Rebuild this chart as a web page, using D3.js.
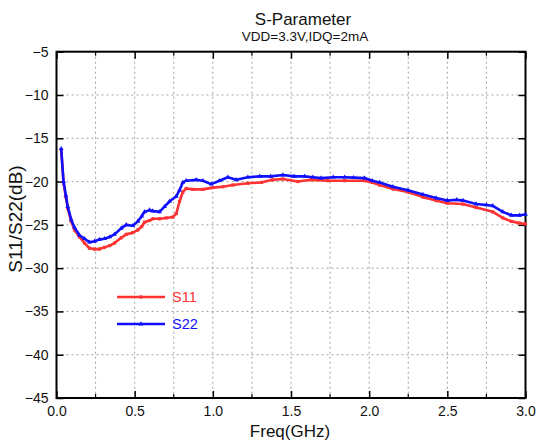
<!DOCTYPE html>
<html><head><meta charset="utf-8">
<script src="https://cdn.jsdelivr.net/npm/d3@7"></script>
<style>body{margin:0;background:#fff}svg{display:block}text{font-family:"Liberation Sans",Arial,sans-serif}</style>
</head><body>
<script>
const titleText = "S-Parameter";
const subtitleText = "VDD=3.3V,IDQ=2mA";
const xTicks = [0.0, 0.5, 1.0, 1.5, 2.0, 2.5, 3.0];
const yTicks = [-5, -10, -15, -20, -25, -30, -35, -40, -45];
const seriesNames = ["S11", "S22"];
const freqS11 = [0.03,0.045,0.06,0.072,0.094,0.115,0.147,0.179,0.211,0.243,0.275,0.307,0.34,0.371,0.414,0.446,0.488,0.52,0.545,0.563,0.595,0.616,0.659,0.702,0.744,0.766,0.787,0.808,0.83,0.872,0.936,1.0,1.064,1.128,1.224,1.31,1.38,1.448,1.544,1.629,1.736,1.843,1.97,2.02,2.067,2.152,2.248,2.344,2.429,2.5,2.6,2.685,2.791,2.855,2.91,2.962,3.0];
const s11 = [-16.3,-20.2,-21.8,-23.1,-24.6,-25.6,-26.4,-27.1,-27.7,-27.8,-27.8,-27.6,-27.4,-27.1,-26.5,-26.1,-25.9,-25.6,-25.2,-24.7,-24.5,-24.3,-24.3,-24.2,-24.1,-23.7,-22.3,-21.2,-20.8,-20.9,-20.9,-20.7,-20.6,-20.4,-20.2,-20.1,-19.8,-19.7,-20.0,-19.8,-19.9,-19.9,-19.9,-20.1,-20.4,-20.85,-21.2,-21.8,-22.2,-22.5,-22.6,-23.0,-23.5,-24.2,-24.6,-24.8,-24.9];
const freqS22 = [0.03,0.045,0.06,0.072,0.094,0.115,0.147,0.179,0.211,0.243,0.275,0.307,0.34,0.371,0.414,0.446,0.488,0.52,0.545,0.563,0.595,0.616,0.659,0.691,0.723,0.766,0.787,0.808,0.83,0.894,0.936,0.99,1.043,1.096,1.15,1.224,1.3,1.37,1.448,1.52,1.587,1.64,1.693,1.77,1.843,1.9,1.97,2.02,2.067,2.152,2.248,2.344,2.429,2.5,2.56,2.6,2.685,2.75,2.791,2.855,2.91,2.962,3.0];
const s22 = [-16.2,-20.0,-21.6,-22.9,-24.4,-25.3,-26.2,-26.6,-27.0,-26.9,-26.7,-26.6,-26.4,-26.1,-25.4,-25.0,-25.1,-24.6,-24.0,-23.5,-23.3,-23.4,-23.5,-22.9,-22.3,-21.7,-21.0,-20.1,-19.9,-19.8,-19.9,-20.3,-19.9,-19.5,-19.8,-19.5,-19.4,-19.4,-19.25,-19.4,-19.4,-19.5,-19.6,-19.5,-19.5,-19.55,-19.6,-19.9,-20.1,-20.6,-21.0,-21.5,-21.9,-22.2,-22.1,-22.2,-22.6,-22.7,-22.8,-23.5,-23.9,-23.9,-23.8];
const colors = ["#ff3333", "#1010ff"];

const W = 539, H = 441;
const m = {left: 56.5, right: 525.5, top: 51.7, bottom: 398};
const svg = d3.select("body").append("svg").attr("width", W).attr("height", H);
const x = d3.scaleLinear().domain([0, 3]).range([m.left, m.right]);
const y = d3.scaleLinear().domain([-45, -5]).range([m.bottom, m.top]);

// grid
const gx = d3.range(0.25, 3, 0.25);
svg.append("g").selectAll("line").data(gx).join("line")
  .attr("x1", d => x(d)).attr("x2", d => x(d)).attr("y1", m.top).attr("y2", m.bottom)
  .attr("stroke", "#a0a0a0").attr("stroke-width", 1).attr("stroke-dasharray", "2,3");
svg.append("g").selectAll("line").data(yTicks.slice(1, -1)).join("line")
  .attr("x1", m.left).attr("x2", m.right).attr("y1", d => y(d)).attr("y2", d => y(d))
  .attr("stroke", "#a0a0a0").attr("stroke-width", 1).attr("stroke-dasharray", "2,3");

// axes
const fmt = d3.format(".1f");
const minorX = d3.range(0.25, 3, 0.5);
const bottomAxis = d3.axisBottom(x).tickValues(xTicks).tickFormat(fmt).tickSizeInner(-7).tickSizeOuter(0).tickPadding(8);
const gB = svg.append("g").attr("transform", `translate(0,${m.bottom})`).call(bottomAxis);
const leftAxis = d3.axisLeft(y).tickValues(yTicks).tickFormat(d3.format("d")).tickSizeInner(-7).tickSizeOuter(0).tickPadding(8);
const gL = svg.append("g").attr("transform", `translate(${m.left},0)`).call(leftAxis);
const topAxis = d3.axisTop(x).tickValues(xTicks).tickFormat("").tickSizeInner(-7).tickSizeOuter(0);
const gT = svg.append("g").attr("transform", `translate(0,${m.top})`).call(topAxis);
const rightAxis = d3.axisRight(y).tickValues(yTicks).tickFormat("").tickSizeInner(-7).tickSizeOuter(0);
const gR = svg.append("g").attr("transform", `translate(${m.right},0)`).call(rightAxis);
[gB, gL, gT, gR].forEach(g => {
  g.select(".domain").remove();
  g.selectAll(".tick line").attr("stroke", "#000").attr("stroke-width", 1.5);
  g.selectAll("text").attr("fill", "#111").style("font-size", "14px").style("font-family", '"Liberation Sans",Arial,sans-serif');
});
// minor x ticks
[[m.bottom, -4], [m.top, 4]].forEach(([yy, len]) => {
  svg.append("g").selectAll("line").data(minorX).join("line")
    .attr("x1", d => x(d)).attr("x2", d => x(d)).attr("y1", yy).attr("y2", yy + len)
    .attr("stroke", "#000").attr("stroke-width", 1.2);
});
// frame
svg.append("rect").attr("x", m.left).attr("y", m.top).attr("width", m.right - m.left).attr("height", m.bottom - m.top)
  .attr("fill", "none").attr("stroke", "#000").attr("stroke-width", 2);

// series
const series = [
  {name: seriesNames[0], f: freqS11, v: s11, color: colors[0], sym: d3.symbolSquare},
  {name: seriesNames[1], f: freqS22, v: s22, color: colors[1], sym: d3.symbolTriangle}
];
const line = d3.line().x(d => x(d[0])).y(d => y(d[1])).curve(d3.curveLinear);
series.forEach(s => {
  const pts = s.f.map((f, i) => [f, s.v[i]]);
  svg.append("path").datum(pts).attr("d", line).attr("fill", "none")
    .attr("stroke", s.color).attr("stroke-width", 2.6).attr("stroke-linejoin", "round");
  svg.append("g").selectAll("path").data(pts).join("path")
    .attr("transform", d => `translate(${x(d[0])},${y(d[1])})`)
    .attr("d", d3.symbol().type(s.sym).size(10)).attr("fill", s.color);
});

// legend
series.forEach((s, i) => {
  const ly = 297 + i * 27;
  svg.append("line").attr("x1", 117).attr("x2", 165).attr("y1", ly).attr("y2", ly)
    .attr("stroke", s.color).attr("stroke-width", 2.6);
  svg.append("path").attr("transform", `translate(141,${ly})`).attr("d", d3.symbol().type(s.sym).size(10)).attr("fill", s.color);
  svg.append("text").attr("x", 172).attr("y", ly + 5).attr("fill", s.color).style("font-size", "14.5px").text(s.name);
});

// titles
svg.append("text").attr("x", 303).attr("y", 24.5).attr("text-anchor", "middle").style("font-size", "17px").attr("fill", "#111").text(titleText);
svg.append("text").attr("x", 305).attr("y", 40.5).attr("text-anchor", "middle").style("font-size", "13.5px").attr("fill", "#111").text(subtitleText);
svg.append("text").attr("x", 290).attr("y", 437).attr("text-anchor", "middle").style("font-size", "17px").attr("fill", "#111").text("Freq(GHz)");
svg.append("text").attr("transform", `translate(22,219) rotate(-90)`).attr("text-anchor", "middle").style("font-size", "19px").attr("fill", "#111").text("S11/S22(dB)");
</script>
</body></html>
